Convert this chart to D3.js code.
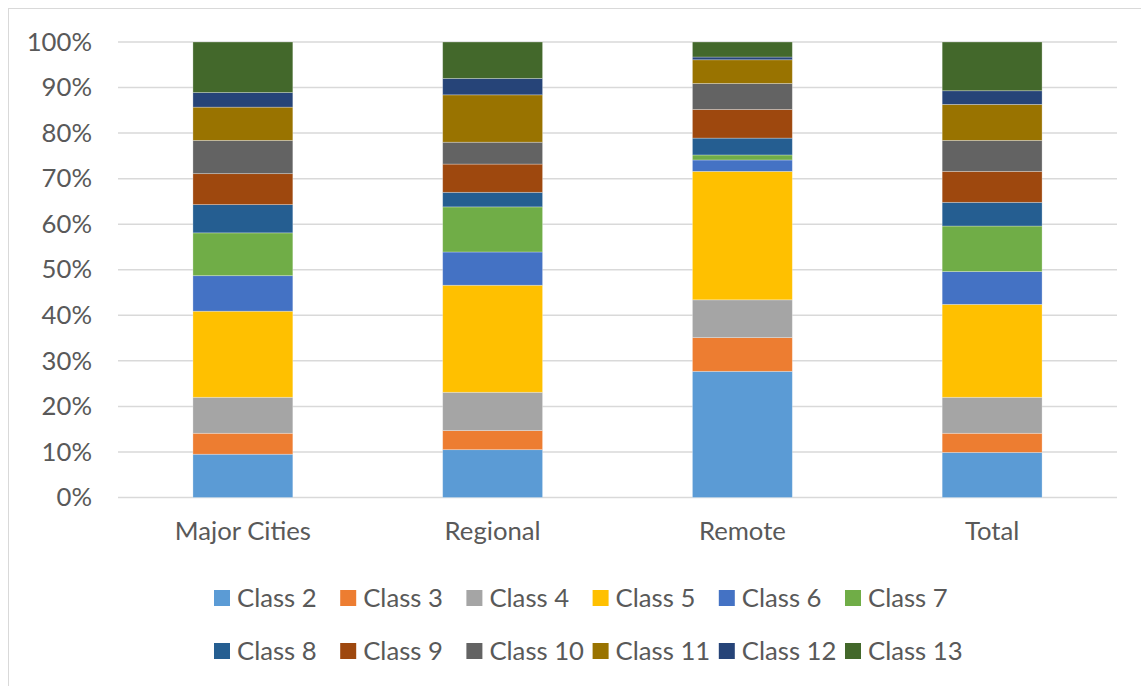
<!DOCTYPE html>
<html>
<head>
<meta charset="utf-8">
<script src="https://cdn.jsdelivr.net/npm/d3@7"></script>
<style>
  body { margin: 0; background: #fff; }
  svg text { font-family: Lato, "Open Sans", sans-serif; fill: #595959; }
</style>
</head>
<body>
<svg id="chart"></svg>
<script>
const width = 1141;
const height = 686;

const regions = ["Major Cities", "Regional", "Remote", "Total"];
const classes = ["Class 2", "Class 3", "Class 4", "Class 5", "Class 6", "Class 7",
                 "Class 8", "Class 9", "Class 10", "Class 11", "Class 12", "Class 13"];
const colors = ["#5B9BD5", "#ED7D31", "#A5A5A5", "#FFC000", "#4472C4", "#70AD47",
                "#255E91", "#9E480E", "#636363", "#997300", "#264478", "#43682B"];

// share (%) of each class, per region
const majorCities = [9.5, 4.6, 7.9, 18.9, 7.8, 9.4, 6.2, 6.8, 7.3, 7.3, 3.2, 11.1];
const regional    = [10.5, 4.2, 8.4, 23.5, 7.3, 9.9, 3.2, 6.2, 4.8, 10.4, 3.6, 8.0];
const remote      = [27.7, 7.4, 8.3, 28.2, 2.5, 1.1, 3.7, 6.3, 5.7, 5.2, 0.6, 3.3];
const total       = [9.9, 4.2, 7.9, 20.4, 7.2, 10.0, 5.2, 6.8, 6.8, 7.9, 3.0, 10.7];

const yTicks = [0, 0.1, 0.2, 0.3, 0.4, 0.5, 0.6, 0.7, 0.8, 0.9, 1.0];

const seriesByRegion = [majorCities, regional, remote, total];

const margin = { left: 118, right: 24, top: 42, bottom: 188.5 };
const fontSize = "25.7px";

const svg = d3.select("#chart")
    .attr("width", width)
    .attr("height", height);

// outer chart border
svg.append("rect")
    .attr("x", 8.5)
    .attr("y", 8.5)
    .attr("width", width)
    .attr("height", height)
    .attr("fill", "none")
    .attr("stroke", "#d9d9d9")
    .attr("stroke-width", 1);

const x = d3.scaleBand()
    .domain(regions)
    .range([margin.left, width - margin.right])
    .paddingInner(0.6)
    .paddingOuter(0.3);

const y = d3.scaleLinear()
    .domain([0, 1])
    .range([height - margin.bottom, margin.top]);

// build rows for the stack: one row per region, normalised to 100%
const rows = regions.map((r, i) => {
    const vals = seriesByRegion[i];
    const sum = d3.sum(vals);
    const row = { region: r };
    classes.forEach((c, j) => { row[c] = vals[j] / sum; });
    return row;
});

const stacked = d3.stack().keys(classes)(rows);

const color = d3.scaleOrdinal().domain(classes).range(colors);

// gridlines
svg.append("g")
    .selectAll("line")
    .data(yTicks)
    .join("line")
    .attr("x1", margin.left)
    .attr("x2", width - margin.right)
    .attr("y1", d => y(d))
    .attr("y2", d => y(d))
    .attr("stroke", "#d9d9d9")
    .attr("stroke-width", 1.5);

// y axis labels
const yAxis = d3.axisLeft(y)
    .tickValues(yTicks)
    .tickFormat(d3.format(".0%"))
    .tickSize(0)
    .tickPadding(26);

const yg = svg.append("g")
    .attr("transform", `translate(${margin.left},0)`)
    .call(yAxis);
yg.select(".domain").remove();
yg.selectAll("text")
    .style("font-size", fontSize)
    .attr("fill", "#595959");

// bars
svg.append("g")
    .selectAll("g")
    .data(stacked)
    .join("g")
    .attr("fill", d => color(d.key))
    .selectAll("rect")
    .data(d => d)
    .join("rect")
    .attr("x", d => x(d.data.region))
    .attr("y", d => y(d[1]))
    .attr("height", d => y(d[0]) - y(d[1]))
    .attr("width", x.bandwidth())
    .attr("stroke", "rgba(255,255,255,0.35)")
    .attr("stroke-width", 0.8);

// x axis labels
const xAxis = d3.axisBottom(x)
    .tickSize(0)
    .tickPadding(24);

const xg = svg.append("g")
    .attr("transform", `translate(0,${height - margin.bottom})`)
    .call(xAxis);
xg.select(".domain").remove();
xg.selectAll("text")
    .style("font-size", fontSize)
    .attr("fill", "#595959");

// legend, two rows of six
const legendX = d3.scaleLinear().domain([0, 1]).range([214, 340.2]);
const legendY = [590, 643];

const legend = svg.append("g")
    .selectAll("g")
    .data(classes)
    .join("g")
    .attr("transform", (d, i) => `translate(${legendX(i % 6)},${legendY[Math.floor(i / 6)]})`);

legend.append("rect")
    .attr("width", 16)
    .attr("height", 16)
    .attr("fill", d => color(d));

legend.append("text")
    .attr("x", 23)
    .attr("y", 16.5)
    .style("font-size", fontSize)
    .text(d => d);
</script>
</body>
</html>
